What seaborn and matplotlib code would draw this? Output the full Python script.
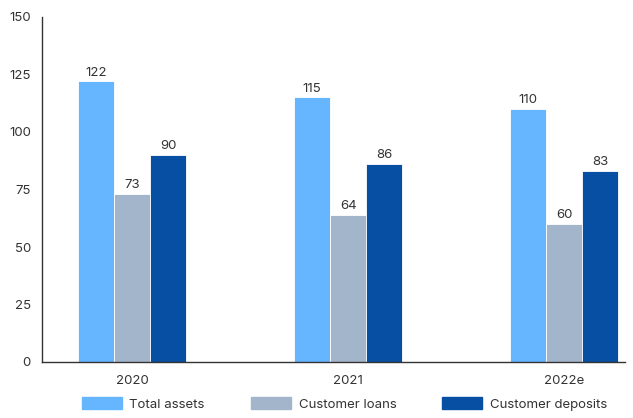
import matplotlib
matplotlib.use("Agg")
import matplotlib.pyplot as plt
import seaborn as sns
import pandas as pd

years = ["2020", "2021", "2022e"]
series = ["Total assets", "Customer loans", "Customer deposits"]
total_assets = [122, 115, 110]
customer_loans = [73, 64, 60]
customer_deposits = [90, 86, 83]
colors = ["#66B5FF", "#A3B5CA", "#064FA3"]

df = pd.DataFrame({
    "year": years * 3,
    "series": [s for s in series for _ in years],
    "value": total_assets + customer_loans + customer_deposits,
})

sns.set_theme(style="white")
plt.rcParams["font.family"] = ["Inter", "DejaVu Sans"]
text_color = "#333333"

fig = plt.figure(figsize=(6.33, 4.18), dpi=100)
ax = fig.add_axes([42 / 633, 56 / 418, 583 / 633, 345 / 418])

sns.barplot(data=df, x="year", y="value", hue="series", palette=colors,
            saturation=1, width=0.5, edgecolor="white", linewidth=0.6,
            ax=ax, legend=False)

for container in ax.containers:
    ax.bar_label(container, fmt="%d", padding=2, fontsize=9.5, color=text_color)

ax.set_ylim(0, 150)
ax.set_yticks([0, 25, 50, 75, 100, 125, 150])
ax.set_xlim(-0.417, 2.282)
ax.set_xlabel("")
ax.set_ylabel("")
for side in ["top", "right"]:
    ax.spines[side].set_visible(False)
for side in ["left", "bottom"]:
    ax.spines[side].set_color("#333333")
    ax.spines[side].set_linewidth(1.0)
ax.tick_params(axis="y", direction="in", length=12, width=1.0, color="#333333",
               labelsize=9.5, labelcolor=text_color, pad=8)
ax.tick_params(axis="x", length=0, labelsize=9.5, labelcolor=text_color, pad=9)

handles = [plt.Rectangle((0, 0), 1, 1, color=c) for c in colors]
fig.legend(handles, series, loc="center left", bbox_to_anchor=(82 / 633, 14 / 418),
           ncol=3, frameon=False, fontsize=9.5, handlelength=3.0, handleheight=1.0,
           handletextpad=0.6, columnspacing=3.5, borderpad=0, borderaxespad=0,
           labelcolor=text_color)

fig.savefig("out.png", dpi=100)
